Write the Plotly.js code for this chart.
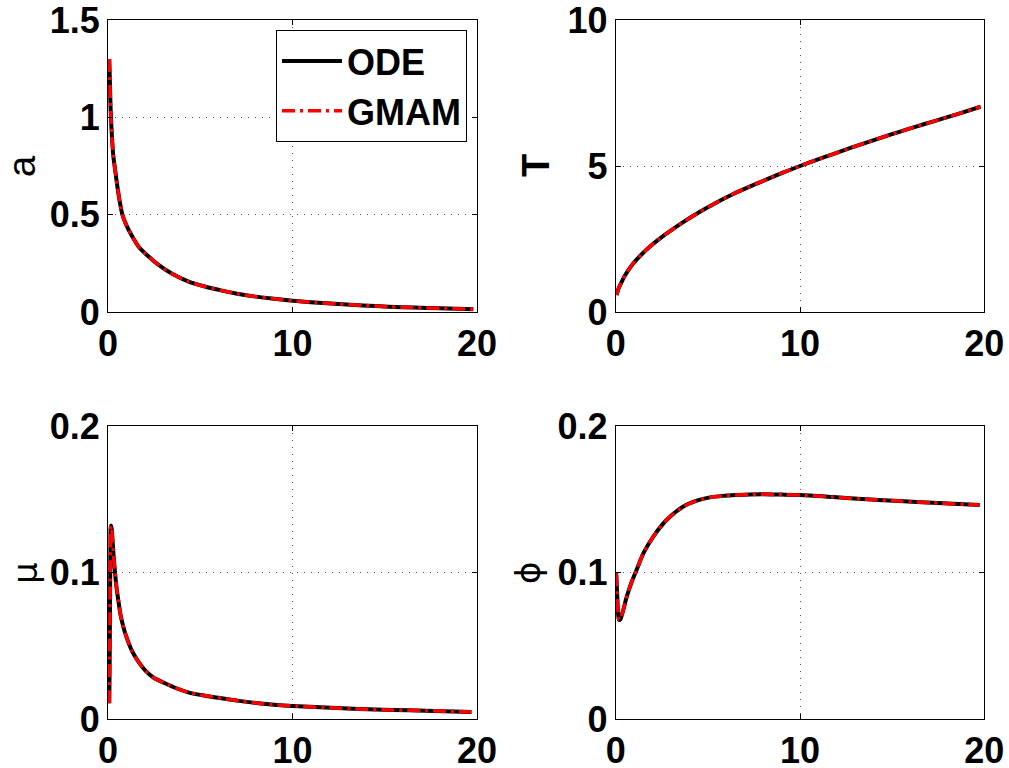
<!DOCTYPE html>
<html><head><meta charset="utf-8">
<script src="https://cdn.plot.ly/plotly-3.0.1.min.js"></script>
<style>html,body{margin:0;padding:0;background:#fff}</style>
</head><body><div id="chart" style="width:1009px;height:768px"></div>
<script>
// ---- data ----
const xA = [0.07,0.10,0.13,0.16,0.22,0.29,0.40,0.53,0.65,0.78,1.0,1.3,1.65,2.2,2.74,3.5,4.37,5.2,6.18,7.0,8.0,9.0,10.0,11.2,12.5,13.8,15.2,16.6,18.0,19.8];
const aVals = [1.30,1.19,1.08,1.00,0.89,0.80,0.72,0.63,0.56,0.50,0.445,0.39,0.337,0.285,0.242,0.195,0.156,0.132,0.110,0.094,0.079,0.068,0.058,0.049,0.041,0.034,0.027,0.023,0.019,0.014];

const xT = [0.05,0.15,0.3,0.5,0.96,1.4,1.86,2.3,2.77,3.6,4.57,5.5,6.38,7.3,8.19,9.1,10.0,10.9,11.8,12.7,13.6,14.5,15.4,16.3,17.2,18.5,19.8];
const TVals = [0.58,0.80,1.0,1.25,1.67,1.97,2.24,2.47,2.69,3.05,3.43,3.76,4.04,4.30,4.54,4.78,5.00,5.21,5.41,5.61,5.80,5.99,6.17,6.35,6.52,6.77,7.03];

const xMu = [0.07,0.09,0.11,0.13,0.15,0.18,0.22,0.30,0.38,0.46,0.56,0.68,0.83,1.0,1.28,1.6,2.0,2.5,3.09,3.7,4.35,5.2,6.16,7.2,8.15,9.0,10.0,11.8,13.6,15.4,17.2,19.7];
const muVals = [0.0107,0.04,0.08,0.115,0.131,0.132,0.127,0.112,0.100,0.090,0.081,0.071,0.063,0.056,0.047,0.040,0.0334,0.028,0.0244,0.021,0.0182,0.0160,0.0141,0.0122,0.0107,0.0097,0.0089,0.0078,0.0068,0.0062,0.0057,0.0048];

const xPhi = [0.03,0.08,0.13,0.18,0.25,0.4,0.6,0.85,1.14,1.5,2.04,2.77,3.67,4.4,5.12,5.8,6.56,7.3,8.0,9.0,10.0,11.8,13.6,15.4,17.2,19.75];
const phiVals = [0.0995,0.085,0.072,0.0676,0.068,0.074,0.0835,0.093,0.102,0.113,0.1245,0.136,0.145,0.149,0.1513,0.1523,0.1529,0.1533,0.1534,0.1532,0.1529,0.1515,0.150,0.1488,0.1476,0.146];

const xTicks = [0,10,20];
const aTicks = [0,0.5,1,1.5];
const TTicks = [0,5,10];
const muTicks = [0,0.1,0.2];
const phiTicks = [0,0.1,0.2];
const seriesNames = ['ODE','GMAM'];
const yLabels = ['a','T','μ','ϕ'];

// ---- styling ----
const FONT = 'Liberation Sans, Arial, Helvetica, sans-serif';
function axis(domain, range, tickvals, anchor){
  return {domain:domain, range:range, tickvals:tickvals, anchor:anchor,
    showline:true, linecolor:'#000', linewidth:1, mirror:'ticks',
    ticks:'inside', ticklen:5, tickcolor:'#000', tickwidth:1,
    showgrid:true, gridcolor:'#555', gridwidth:1, griddash:'1px,6px',
    zeroline:false, fixedrange:true, ticklabeloverflow:'allow',
    tickfont:{family:FONT, size:36, weight:'bold', color:'#000'}};
}
const xL=[108/1009, 477/1009], xR=[615.7/1009, 984.3/1009];
const yTop=[1-312/768, 1-20/768], yBot=[1-719/768, 1-426/768];

const panels = [
  {x:xA, y:aVals, xa:'x', ya:'y'},
  {x:xT, y:TVals, xa:'x2', ya:'y2'},
  {x:xMu, y:muVals, xa:'x3', ya:'y3'},
  {x:xPhi, y:phiVals, xa:'x4', ya:'y4'}
];
const traces = [];
panels.forEach((p,i)=>{
  traces.push({x:p.x, y:p.y, xaxis:p.xa, yaxis:p.ya, mode:'lines', name:seriesNames[0],
    showlegend:i===0, line:{color:'#000', width:4, shape:'spline', smoothing:0.7}});
  traces.push({x:p.x, y:p.y, xaxis:p.xa, yaxis:p.ya, mode:'lines', name:seriesNames[1],
    showlegend:i===0, line:{color:'#ff0000', width:3.5, dash:'13px,5px,3px,5px', shape:'spline', smoothing:0.7}});
});

const layout = {
  width:1009, height:768, margin:{l:0,r:0,t:0,b:0},
  paper_bgcolor:'#fff', plot_bgcolor:'#fff', showlegend:true,
  xaxis: axis(xL,[0,20],xTicks,'y'),
  yaxis: axis(yTop,[0,1.5],aTicks,'x'),
  xaxis2: axis(xR,[0,20],xTicks,'y2'),
  yaxis2: axis(yTop,[0,10],TTicks,'x2'),
  xaxis3: axis(xL,[0,20],xTicks,'y3'),
  yaxis3: axis(yBot,[0,0.2],muTicks,'x3'),
  xaxis4: axis(xR,[0,20],xTicks,'y4'),
  yaxis4: axis(yBot,[0,0.2],phiTicks,'x4'),
  legend:{x:467/1009, xanchor:'right', y:1-30/768, yanchor:'top',
    bordercolor:'#000', borderwidth:1, bgcolor:'#fff', itemwidth:60,
    font:{family:FONT, size:36, weight:'bold', color:'#000'}},
  annotations:[
    {text:yLabels[0], xref:'paper', yref:'paper', x:22/1009, y:1-166/768, showarrow:false, textangle:-90, xanchor:'center', yanchor:'middle', font:{family:FONT, size:38, color:'#000'}},
    {text:'<b>'+yLabels[1]+'</b>', xref:'paper', yref:'paper', x:536/1009, y:1-166/768, showarrow:false, textangle:-90, xanchor:'center', yanchor:'middle', font:{family:FONT, size:38, color:'#000'}},
    {text:yLabels[2], xref:'paper', yref:'paper', x:25/1009, y:1-573/768, showarrow:false, textangle:-90, xanchor:'center', yanchor:'middle', font:{family:'DejaVu Sans, sans-serif', size:34, color:'#000'}},
    {text:yLabels[3], xref:'paper', yref:'paper', x:528/1009, y:1-573/768, showarrow:false, textangle:-90, xanchor:'center', yanchor:'middle', font:{family:'DejaVu Sans, sans-serif', size:34, color:'#000'}}
  ]
};
Plotly.newPlot('chart', traces, layout, {staticPlot:true, displayModeBar:false});
</script></body></html>
